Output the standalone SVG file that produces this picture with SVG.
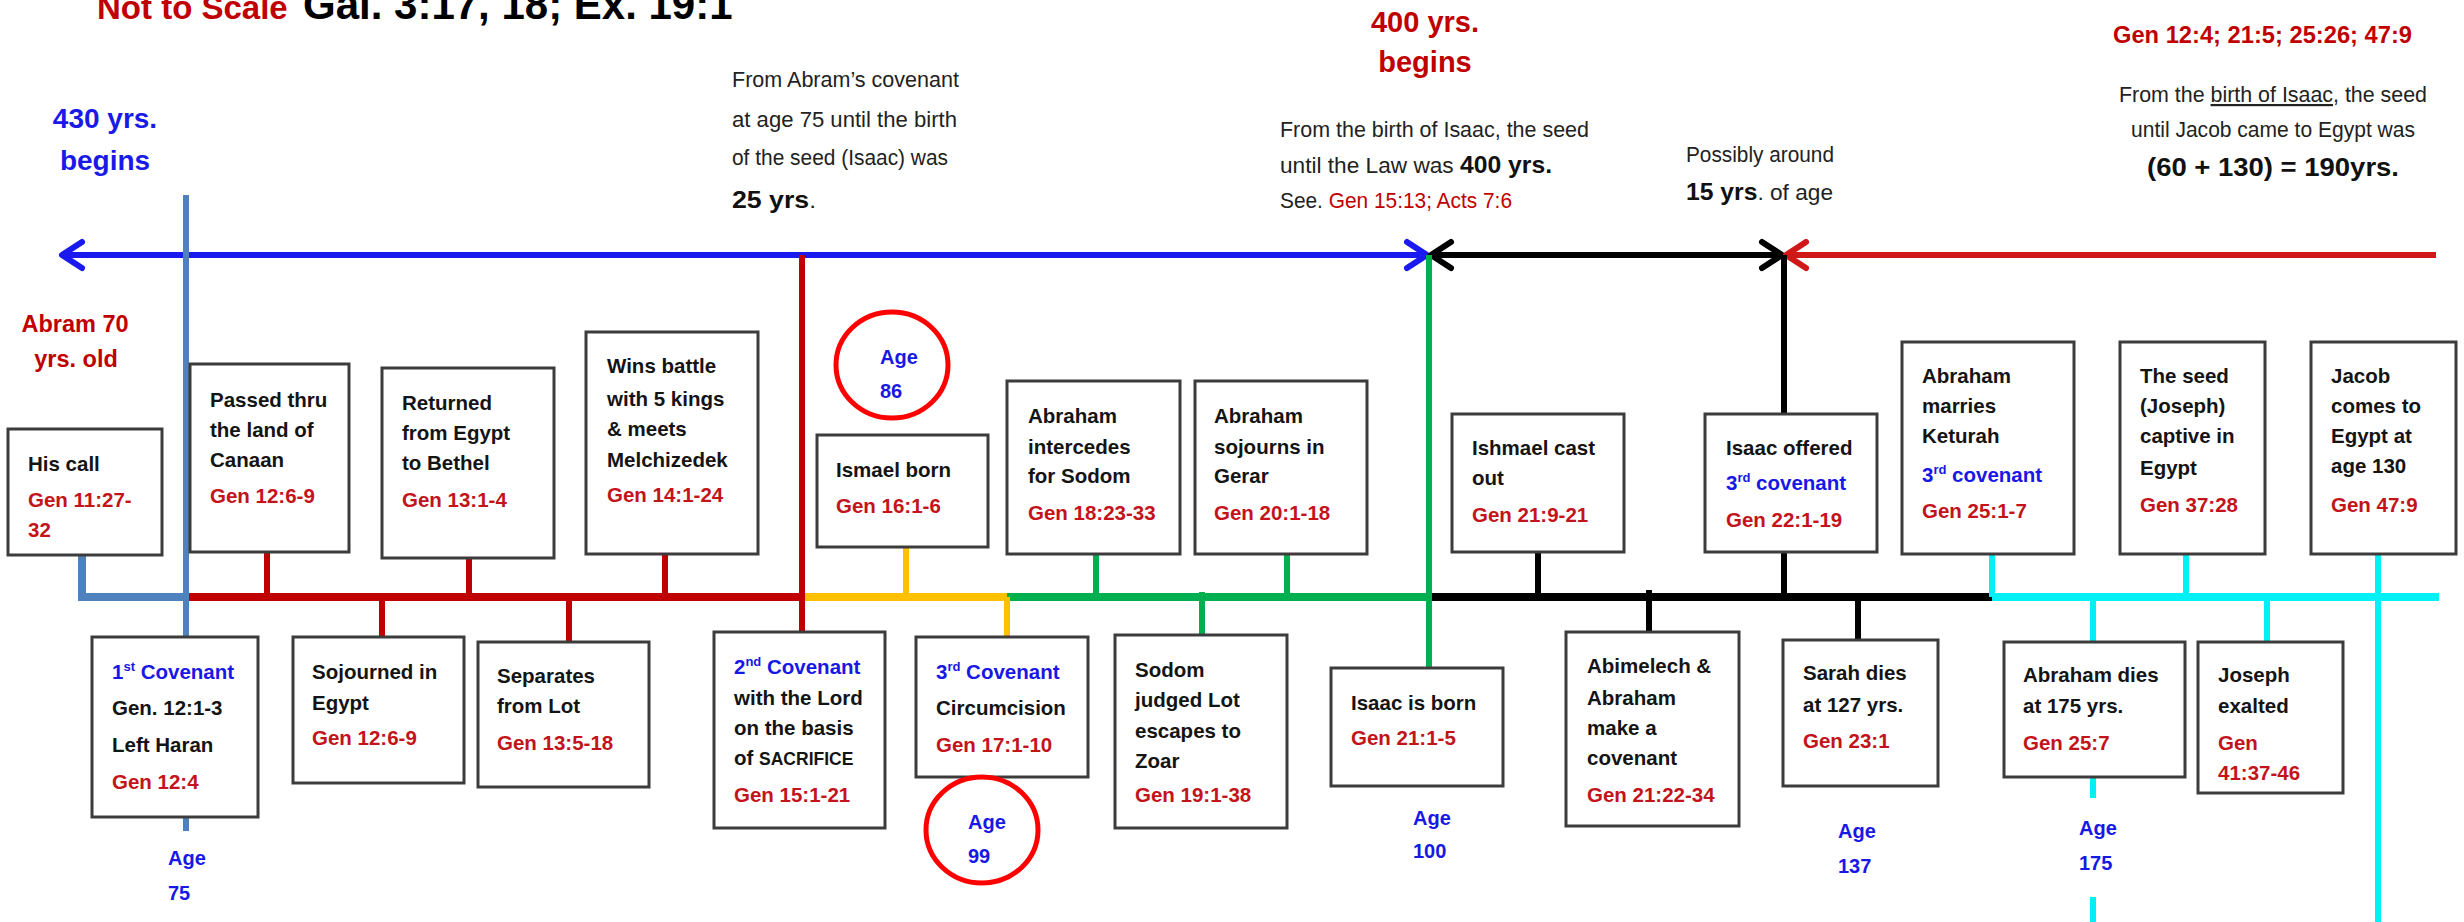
<svg xmlns="http://www.w3.org/2000/svg" width="2464" height="922" viewBox="0 0 2464 922">
<style>
.box{fill:#fff;stroke:#3c3c3c;stroke-width:3}
.t{font-family:"Liberation Sans",Arial,sans-serif;font-weight:bold;font-size:20.5px;fill:#141414}
.r{fill:#c3131b}
.b{fill:#1818e6}
.age{font-family:"Liberation Sans",Arial,sans-serif;font-weight:bold;font-size:20px;fill:#1818e6}
.cal{font-family:"Liberation Sans Narrow","Liberation Sans",Arial,sans-serif;font-size:22px;fill:#222}
.bold{font-family:"Liberation Sans",Arial,sans-serif;font-weight:bold}
.hd{font-family:"Liberation Sans",Arial,sans-serif;font-weight:bold;text-anchor:middle}
.steel{stroke:#4f81bd}
.red{stroke:#c00000}
.yel{stroke:#ffc000}
.grn{stroke:#00b050}
.blk{stroke:#000}
.cyn{stroke:#00f0f5}
.v{stroke-width:6;fill:none}
.tl{stroke-width:8;fill:none}
.ring{fill:none;stroke:#ff0000;stroke-width:5}
</style>
<defs>
<marker id="mb" markerUnits="userSpaceOnUse" viewBox="-30 -20 40 40" markerWidth="40" markerHeight="40" refX="0" refY="0" orient="auto-start-reverse" overflow="visible">
<path d="M-20,-13 L0,0 L-20,13" fill="none" stroke="#1a1af0" stroke-width="6" stroke-linecap="round" stroke-linejoin="round"/>
</marker>
<marker id="mk" markerUnits="userSpaceOnUse" viewBox="-30 -20 40 40" markerWidth="40" markerHeight="40" refX="0" refY="0" orient="auto-start-reverse" overflow="visible">
<path d="M-20,-13 L0,0 L-20,13" fill="none" stroke="#000" stroke-width="6" stroke-linecap="round" stroke-linejoin="round"/>
</marker>
<marker id="mr" markerUnits="userSpaceOnUse" viewBox="-30 -20 40 40" markerWidth="40" markerHeight="40" refX="0" refY="0" orient="auto-start-reverse" overflow="visible">
<path d="M-20,-13 L0,0 L-20,13" fill="none" stroke="#d01818" stroke-width="6" stroke-linecap="round" stroke-linejoin="round"/>
</marker>
</defs>
<rect width="2464" height="922" fill="#fff"/>

<g id="title">
<text y="19" class="bold"><tspan x="97" fill="#c00000" font-size="33">Not to Scale</tspan><tspan x="303" fill="#000" font-size="42">Gal. 3:17, 18; Ex. 19:1</tspan></text>
</g>

<g id="connectors">
<line x1="62" y1="255" x2="1427" y2="255" stroke="#1a1af0" stroke-width="6" marker-start="url(#mb)" marker-end="url(#mb)"/>
<line x1="1431" y1="255" x2="1782" y2="255" stroke="#000" stroke-width="6" marker-start="url(#mk)" marker-end="url(#mk)"/>
<line x1="1786" y1="255" x2="2436" y2="255" stroke="#d01818" stroke-width="6" marker-start="url(#mr)"/>
<!-- timeline -->
<path class="steel tl" d="M82,555 V597 H186"/>
<line class="red tl" x1="186" y1="597" x2="802" y2="597"/>
<line class="yel tl" x1="802" y1="597" x2="1007" y2="597"/>
<line class="grn tl" x1="1007" y1="597" x2="1429" y2="597"/>
<line class="blk tl" x1="1429" y1="597" x2="1992" y2="597"/>
<line class="cyn tl" x1="1992" y1="597" x2="2439" y2="597"/>
<!-- verticals -->
<line class="steel v" x1="186" y1="195" x2="186" y2="637"/>
<line class="steel v" x1="186" y1="817" x2="186" y2="831"/>
<line class="red v" x1="802" y1="255" x2="802" y2="632"/>
<line class="red v" x1="267" y1="552" x2="267" y2="597"/>
<line class="red v" x1="469" y1="558" x2="469" y2="597"/>
<line class="red v" x1="665" y1="554" x2="665" y2="597"/>
<line class="red v" x1="382" y1="597" x2="382" y2="637"/>
<line class="red v" x1="569" y1="597" x2="569" y2="642"/>
<line class="yel v" x1="906" y1="547" x2="906" y2="597"/>
<line class="yel v" x1="1007" y1="597" x2="1007" y2="637"/>
<line class="grn v" x1="1096" y1="554" x2="1096" y2="597"/>
<line class="grn v" x1="1287" y1="554" x2="1287" y2="597"/>
<line class="grn v" x1="1202" y1="592" x2="1202" y2="635"/>
<line class="grn v" x1="1429" y1="255" x2="1429" y2="668"/>
<line class="blk v" x1="1538" y1="552" x2="1538" y2="597"/>
<line class="blk v" x1="1784" y1="255" x2="1784" y2="414"/>
<line class="blk v" x1="1784" y1="552" x2="1784" y2="597"/>
<line class="blk v" x1="1649" y1="590" x2="1649" y2="632"/>
<line class="blk v" x1="1858" y1="597" x2="1858" y2="640"/>
<line class="cyn v" x1="1992" y1="554" x2="1992" y2="597"/>
<line class="cyn v" x1="2186" y1="554" x2="2186" y2="597"/>
<line class="cyn v" x1="2378" y1="554" x2="2378" y2="922"/>
<line class="cyn v" x1="2093" y1="597" x2="2093" y2="642"/>
<line class="cyn v" x1="2093" y1="777" x2="2093" y2="798"/>
<line class="cyn v" x1="2093" y1="897" x2="2093" y2="922"/>
<line class="cyn v" x1="2267" y1="597" x2="2267" y2="642"/>
</g>

<g id="annotations">
<text class="hd" fill="#1a1ae8" font-size="28"><tspan x="105" y="128">430 yrs.</tspan><tspan x="105" y="170">begins</tspan></text>
<text class="hd" fill="#c00000" font-size="23.5"><tspan x="75" y="332">Abram 70</tspan><tspan x="76" y="367">yrs. old</tspan></text>
<text class="hd" fill="#c00000" font-size="29"><tspan x="1425" y="32">400 yrs.</tspan><tspan x="1425" y="72">begins</tspan></text>
<text class="cal" x="732" y="87" textLength="227" lengthAdjust="spacingAndGlyphs">From Abram’s covenant</text>
<text class="cal" x="732" y="127" textLength="225" lengthAdjust="spacingAndGlyphs">at age 75 until the birth</text>
<text class="cal" x="732" y="165" textLength="216" lengthAdjust="spacingAndGlyphs">of the seed (Isaac) was</text>
<text class="cal" x="732" y="208" textLength="84" lengthAdjust="spacingAndGlyphs"><tspan class="bold" font-size="24" fill="#111">25 yrs</tspan>.</text>
<text class="cal" x="1280" y="137" textLength="309" lengthAdjust="spacingAndGlyphs">From the birth of Isaac, the seed</text>
<text class="cal" x="1280" y="173" textLength="272" lengthAdjust="spacingAndGlyphs">until the Law was <tspan class="bold" font-size="24" fill="#111">400 yrs.</tspan></text>
<text class="cal" x="1280" y="208" textLength="232" lengthAdjust="spacingAndGlyphs">See. <tspan fill="#c00000">Gen 15:13; Acts 7:6</tspan></text>
<text class="cal" x="1686" y="162" textLength="148" lengthAdjust="spacingAndGlyphs">Possibly around</text>
<text class="cal" x="1686" y="200" textLength="147" lengthAdjust="spacingAndGlyphs"><tspan class="bold" font-size="24" fill="#111">15 yrs</tspan>. of age</text>
<text class="bold" x="2113" y="43" font-size="23.5" fill="#c00000" textLength="299" lengthAdjust="spacingAndGlyphs">Gen 12:4; 21:5; 25:26; 47:9</text>
<text class="cal" x="2119" y="102" textLength="308" lengthAdjust="spacingAndGlyphs">From the <tspan text-decoration="underline">birth of Isaac</tspan>, the seed</text>
<text class="cal" x="2131" y="137" textLength="284" lengthAdjust="spacingAndGlyphs">until Jacob came to Egypt was</text>
<text class="bold" x="2147" y="176" font-size="25" fill="#111" textLength="252" lengthAdjust="spacingAndGlyphs">(60 + 130) = 190yrs.</text>
</g>

<g id="n-hiscall"><rect class="box" x="8" y="429" width="154" height="126"/>
<text class="t"><tspan x="28" y="471">His call</tspan><tspan class="r" x="28" y="507">Gen 11:27-</tspan><tspan class="r" x="28" y="537">32</tspan></text></g>

<g id="n-passed"><rect class="box" x="190" y="364" width="159" height="188"/>
<text class="t"><tspan x="210" y="407">Passed thru</tspan><tspan x="210" y="437">the land of</tspan><tspan x="210" y="467">Canaan</tspan><tspan class="r" x="210" y="503">Gen 12:6-9</tspan></text></g>

<g id="n-returned"><rect class="box" x="382" y="368" width="172" height="190"/>
<text class="t"><tspan x="402" y="410">Returned</tspan><tspan x="402" y="440">from Egypt</tspan><tspan x="402" y="470">to Bethel</tspan><tspan class="r" x="402" y="507">Gen 13:1-4</tspan></text></g>

<g id="n-wins"><rect class="box" x="586" y="332" width="172" height="222"/>
<text class="t"><tspan x="607" y="373">Wins battle</tspan><tspan x="607" y="406">with 5 kings</tspan><tspan x="607" y="436">&amp; meets</tspan><tspan x="607" y="467">Melchizedek</tspan><tspan class="r" x="607" y="502">Gen 14:1-24</tspan></text></g>

<g id="n-age86"><ellipse class="ring" cx="892" cy="365" rx="56" ry="53"/>
<text class="age"><tspan x="880" y="364">Age</tspan><tspan x="880" y="398">86</tspan></text></g>

<g id="n-ismael"><rect class="box" x="817" y="435" width="171" height="112"/>
<text class="t"><tspan x="836" y="477">Ismael born</tspan><tspan class="r" x="836" y="513">Gen 16:1-6</tspan></text></g>

<g id="n-intercedes"><rect class="box" x="1007" y="381" width="173" height="173"/>
<text class="t"><tspan x="1028" y="423">Abraham</tspan><tspan x="1028" y="454">intercedes</tspan><tspan x="1028" y="483">for Sodom</tspan><tspan class="r" x="1028" y="520">Gen 18:23-33</tspan></text></g>

<g id="n-gerar"><rect class="box" x="1195" y="381" width="172" height="173"/>
<text class="t"><tspan x="1214" y="423">Abraham</tspan><tspan x="1214" y="454">sojourns in</tspan><tspan x="1214" y="483">Gerar</tspan><tspan class="r" x="1214" y="520">Gen 20:1-18</tspan></text></g>

<g id="n-castout"><rect class="box" x="1452" y="414" width="172" height="138"/>
<text class="t"><tspan x="1472" y="455">Ishmael cast</tspan><tspan x="1472" y="485">out</tspan><tspan class="r" x="1472" y="522">Gen 21:9-21</tspan></text></g>

<g id="n-offered"><rect class="box" x="1705" y="414" width="172" height="138"/>
<text class="t"><tspan x="1726" y="455">Isaac offered</tspan><tspan class="b" x="1726" y="490">3<tspan font-size="13" dy="-8">rd</tspan><tspan dy="8"> covenant</tspan></tspan><tspan class="r" x="1726" y="527">Gen 22:1-19</tspan></text></g>

<g id="n-keturah"><rect class="box" x="1902" y="342" width="172" height="212"/>
<text class="t"><tspan x="1922" y="383">Abraham</tspan><tspan x="1922" y="413">marries</tspan><tspan x="1922" y="443">Keturah</tspan><tspan class="b" x="1922" y="482">3<tspan font-size="13" dy="-8">rd</tspan><tspan dy="8"> covenant</tspan></tspan><tspan class="r" x="1922" y="518">Gen 25:1-7</tspan></text></g>

<g id="n-seed"><rect class="box" x="2120" y="342" width="145" height="212"/>
<text class="t"><tspan x="2140" y="383">The seed</tspan><tspan x="2140" y="413">(Joseph)</tspan><tspan x="2140" y="443">captive in</tspan><tspan x="2140" y="475">Egypt</tspan><tspan class="r" x="2140" y="512">Gen 37:28</tspan></text></g>

<g id="n-jacob"><rect class="box" x="2311" y="342" width="145" height="212"/>
<text class="t"><tspan x="2331" y="383">Jacob</tspan><tspan x="2331" y="413">comes to</tspan><tspan x="2331" y="443">Egypt at</tspan><tspan x="2331" y="473">age 130</tspan><tspan class="r" x="2331" y="512">Gen 47:9</tspan></text></g>

<g id="n-cov1"><rect class="box" x="92" y="637" width="166" height="180"/>
<text class="t"><tspan class="b" x="112" y="679">1<tspan font-size="13" dy="-8">st</tspan><tspan dy="8"> Covenant</tspan></tspan><tspan x="112" y="715">Gen. 12:1-3</tspan><tspan x="112" y="752">Left Haran</tspan><tspan class="r" x="112" y="789">Gen 12:4</tspan></text></g>

<g id="n-age75"><text class="age"><tspan x="168" y="865">Age</tspan><tspan x="168" y="900">75</tspan></text></g>

<g id="n-sojourned"><rect class="box" x="293" y="637" width="171" height="146"/>
<text class="t"><tspan x="312" y="679">Sojourned in</tspan><tspan x="312" y="710">Egypt</tspan><tspan class="r" x="312" y="745">Gen 12:6-9</tspan></text></g>

<g id="n-separates"><rect class="box" x="478" y="642" width="171" height="145"/>
<text class="t"><tspan x="497" y="683">Separates</tspan><tspan x="497" y="713">from Lot</tspan><tspan class="r" x="497" y="750">Gen 13:5-18</tspan></text></g>

<g id="n-cov2"><rect class="box" x="714" y="632" width="171" height="196"/>
<text class="t"><tspan class="b" x="734" y="674">2<tspan font-size="13" dy="-8">nd</tspan><tspan dy="8"> Covenant</tspan></tspan><tspan x="734" y="705">with the Lord</tspan><tspan x="734" y="735">on the basis</tspan><tspan x="734" y="765">of <tspan font-size="17.5">SACRIFICE</tspan></tspan><tspan class="r" x="734" y="802">Gen 15:1-21</tspan></text></g>

<g id="n-cov3"><rect class="box" x="916" y="637" width="172" height="140"/>
<text class="t"><tspan class="b" x="936" y="679">3<tspan font-size="13" dy="-8">rd</tspan><tspan dy="8"> Covenant</tspan></tspan><tspan x="936" y="715">Circumcision</tspan><tspan class="r" x="936" y="752">Gen 17:1-10</tspan></text></g>

<g id="n-age99"><ellipse class="ring" cx="982" cy="830" rx="56" ry="53"/>
<text class="age"><tspan x="968" y="829">Age</tspan><tspan x="968" y="863">99</tspan></text></g>

<g id="n-sodom"><rect class="box" x="1115" y="635" width="172" height="193"/>
<text class="t"><tspan x="1135" y="677">Sodom</tspan><tspan x="1135" y="707">judged Lot</tspan><tspan x="1135" y="738">escapes to</tspan><tspan x="1135" y="768">Zoar</tspan><tspan class="r" x="1135" y="802">Gen 19:1-38</tspan></text></g>

<g id="n-isaacborn"><rect class="box" x="1331" y="668" width="172" height="118"/>
<text class="t"><tspan x="1351" y="710">Isaac is born</tspan><tspan class="r" x="1351" y="745">Gen 21:1-5</tspan></text></g>

<g id="n-age100"><text class="age"><tspan x="1413" y="825">Age</tspan><tspan x="1413" y="858">100</tspan></text></g>

<g id="n-abimelech"><rect class="box" x="1566" y="632" width="173" height="194"/>
<text class="t"><tspan x="1587" y="673">Abimelech &amp;</tspan><tspan x="1587" y="705">Abraham</tspan><tspan x="1587" y="735">make a</tspan><tspan x="1587" y="765">covenant</tspan><tspan class="r" x="1587" y="802">Gen 21:22-34</tspan></text></g>

<g id="n-sarah"><rect class="box" x="1783" y="640" width="155" height="146"/>
<text class="t"><tspan x="1803" y="680">Sarah dies</tspan><tspan x="1803" y="712">at 127 yrs.</tspan><tspan class="r" x="1803" y="748">Gen 23:1</tspan></text></g>

<g id="n-age137"><text class="age"><tspan x="1838" y="838">Age</tspan><tspan x="1838" y="873">137</tspan></text></g>

<g id="n-abrahamdies"><rect class="box" x="2004" y="642" width="181" height="135"/>
<text class="t"><tspan x="2023" y="682">Abraham dies</tspan><tspan x="2023" y="713">at 175 yrs.</tspan><tspan class="r" x="2023" y="750">Gen 25:7</tspan></text></g>

<g id="n-age175"><text class="age"><tspan x="2079" y="835">Age</tspan><tspan x="2079" y="870">175</tspan></text></g>

<g id="n-joseph"><rect class="box" x="2198" y="642" width="145" height="151"/>
<text class="t"><tspan x="2218" y="682">Joseph</tspan><tspan x="2218" y="713">exalted</tspan><tspan class="r" x="2218" y="750">Gen</tspan><tspan class="r" x="2218" y="780">41:37-46</tspan></text></g>
</svg>
